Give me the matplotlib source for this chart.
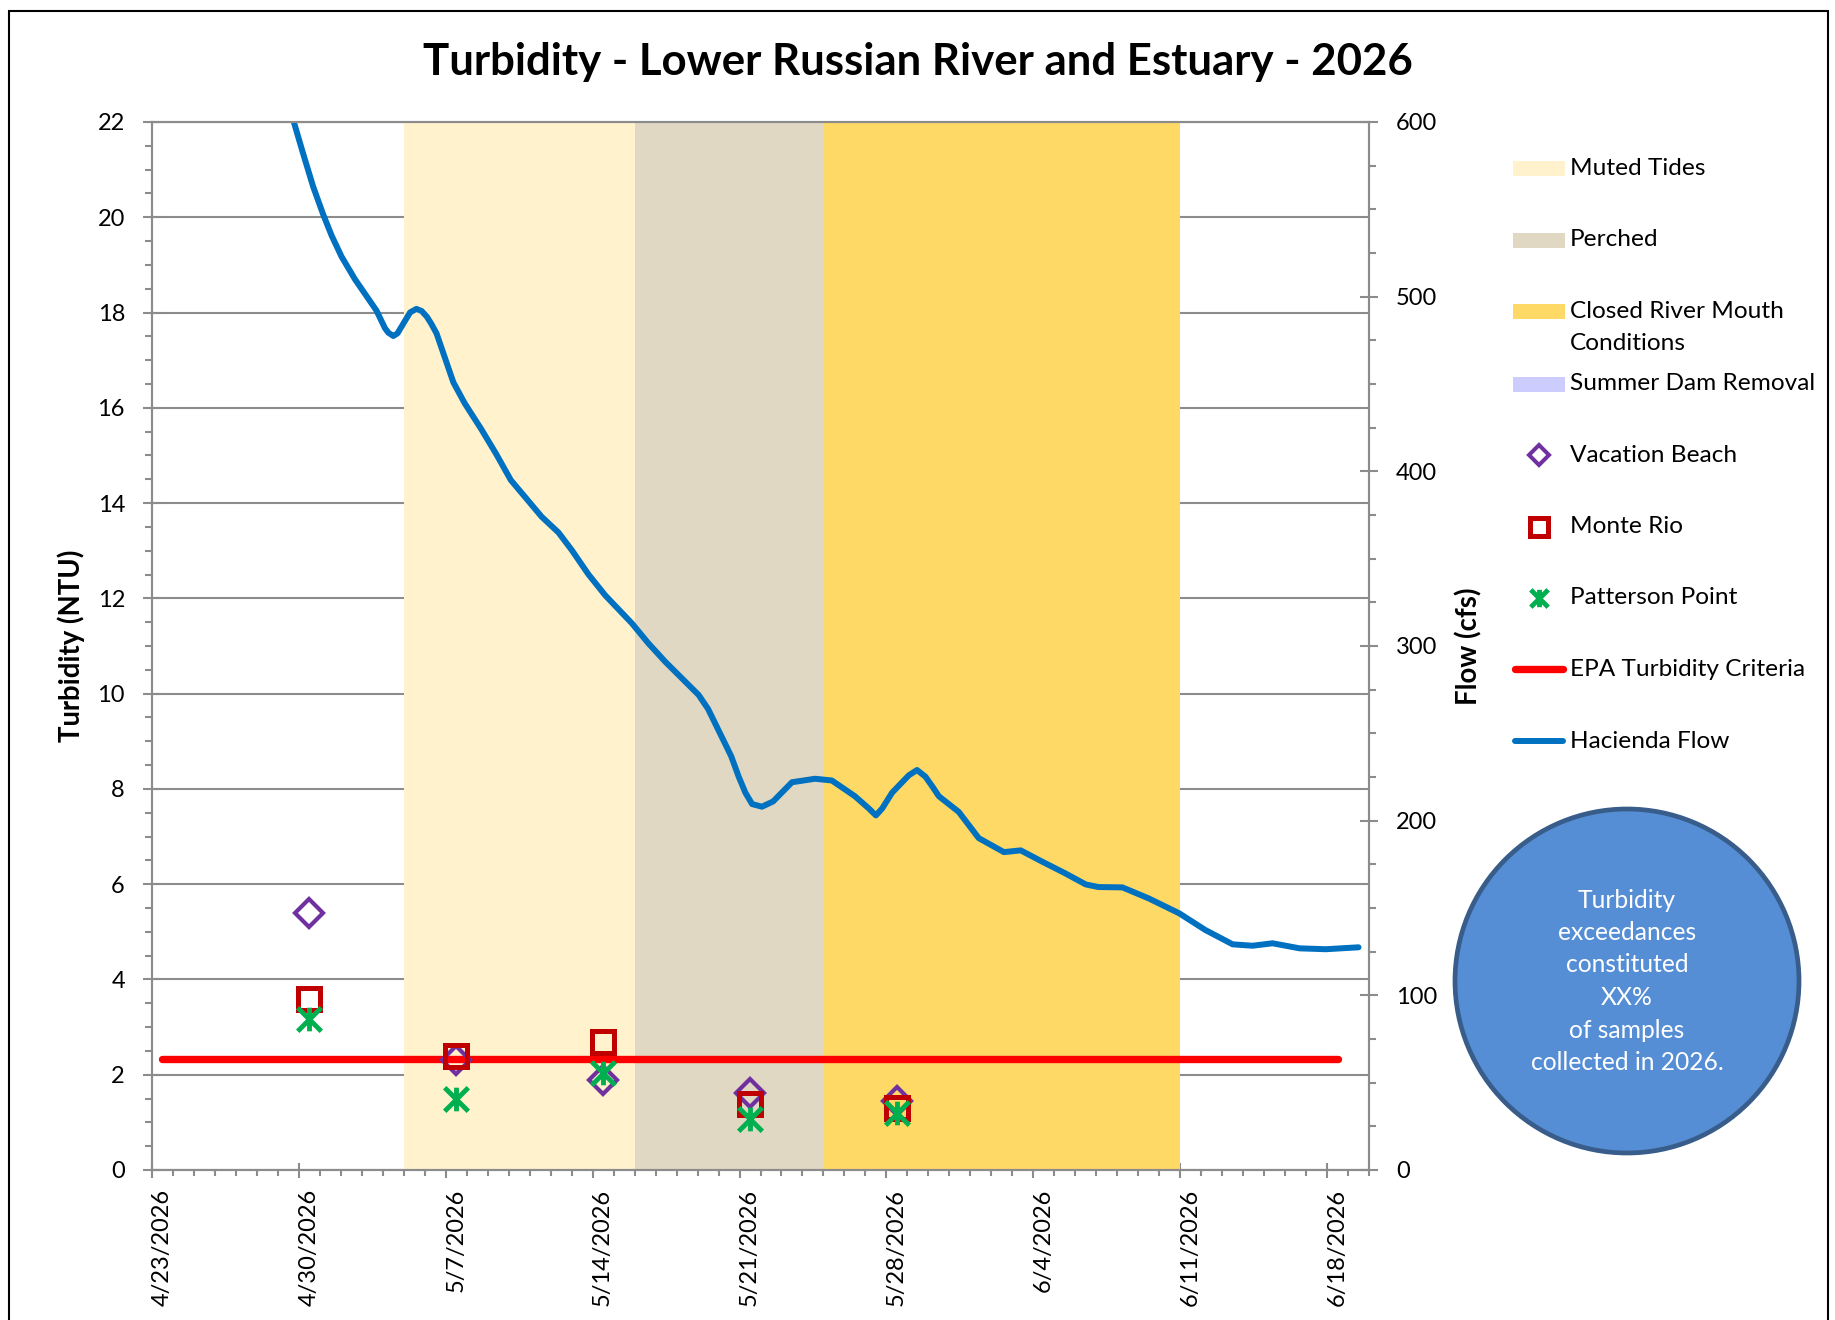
"""Turbidity - Lower Russian River and Estuary - 2026: turbidity samples with Hacienda flow."""

import datetime as dt

import matplotlib

matplotlib.use("Agg")
import matplotlib.dates as mdates
import matplotlib.pyplot as plt
from matplotlib.lines import Line2D
from matplotlib.patches import Circle, Rectangle
from matplotlib.path import Path
from matplotlib.ticker import FuncFormatter, MultipleLocator
from matplotlib.transforms import ScaledTranslation

plt.rcParams["font.family"] = ["Lato", "DejaVu Sans"]

W, H = 1835, 1320
GRAY = "#8C8C8C"

START = dt.datetime(2026, 4, 23)
END = dt.datetime(2026, 6, 20)

# turbidity samples (NTU)
sample_dates = ["2026-04-30 12:00", "2026-05-07 12:00", "2026-05-14 12:00",
                "2026-05-21 12:00", "2026-05-28 12:00"]
vacation_beach = [5.39, 2.31, 1.89, 1.61, 1.45]
monte_rio = [3.58, 2.39, 2.69, 1.39, 1.30]
patterson_point = [3.18, 1.48, 2.03, 1.08, 1.19]

epa_dates = ["2026-04-23 12:00", "2026-06-18 12:00"]
epa_criteria = [2.32, 2.32]

# Hacienda flow (cfs), days after 4/23
flow_days = [6.3, 6.76, 7.2, 7.68, 8.16, 8.56, 9.03, 9.67, 10.3, 10.7, 11.1, 11.26,
             11.5, 11.7, 11.9, 12.3, 12.6, 12.85, 13.1, 13.3, 13.56, 13.96, 14.36,
             14.9, 15.7, 16.4, 17.1, 17.8, 18.57, 19.37, 20.0, 20.8, 21.6, 22.87,
             23.66, 24.46, 26.05, 26.5, 27.6, 27.96, 28.28, 28.6, 29.07, 29.6, 30.5,
             31.6, 32.4, 33.5, 34.16, 34.5, 34.8, 35.27, 36.07, 36.46, 36.86, 37.2,
             37.5, 38.45, 39.4, 40.6, 41.4, 42.43, 43.5, 44.5, 45.1, 46.25, 47.5,
             48.95, 50.2, 51.5, 52.45, 53.4, 54.7, 55.95, 57.5]
flow_cfs = [628, 600, 582, 563, 547, 535, 523, 510, 499, 492, 482, 479.4,
            477.5, 479, 483, 491, 493, 491.8, 488.5, 484.7, 479, 465, 451,
            439, 424, 410, 395, 385, 374, 365, 355, 341, 329, 313,
            301.5, 291, 272, 264, 237, 225.2, 216, 209.5, 208, 211, 222,
            224, 223, 214, 207, 203, 207, 216, 226, 229, 225.2, 219.4,
            214, 205, 190, 182, 183, 176.5, 170, 163.5, 162, 161.8, 155.5,
            147, 137.4, 129.2, 128.4, 129.8, 126.9, 126.4, 127.5]

# river mouth periods
period_labels = ["Muted Tides", "Perched", "Closed River Mouth Conditions"]
period_starts = ["2026-05-05", "2026-05-16", "2026-05-25"]
period_ends = ["2026-05-16", "2026-05-25", "2026-06-11"]
period_colors = ["#FFF2CC", "#E0D8C3", "#FFD966"]
DAM_COLOR = "#CCCCFF"

VB_COLOR, MR_COLOR, PP_COLOR = "#7030A0", "#C00000", "#00B050"
EPA_COLOR, FLOW_COLOR = "#FF0000", "#0070C0"

STAR = Path([(-1, -1), (1, 1), (-1, 1), (1, -1), (0, -1), (0, 1)],
            [Path.MOVETO, Path.LINETO, Path.MOVETO, Path.LINETO,
             Path.MOVETO, Path.LINETO])


def ts(s):
    return dt.datetime.fromisoformat(s)


def fx(x):
    return x / W


def fy(y):
    return 1 - y / H


fig = plt.figure(figsize=(W / 100, H / 100), dpi=100)
ax = fig.add_axes([fx(152), fy(1170), fx(1369) - fx(152), fy(122) - fy(1170)])
ax2 = ax.twinx()

for s, e, c in zip(period_starts, period_ends, period_colors):
    ax.axvspan(ts(s), ts(e), color=c, lw=0, zorder=1)

ax.plot([ts(d) for d in epa_dates], epa_criteria, color=EPA_COLOR, lw=5.3,
        solid_capstyle="round", zorder=3)
sd = [ts(d) for d in sample_dates]
ax.plot(sd, vacation_beach, ls="none", marker="D", ms=14, mfc="none",
        mec=VB_COLOR, mew=3, zorder=4)
ax.plot(sd, monte_rio, ls="none", marker="s", ms=16.5, mfc="none",
        mec=MR_COLOR, mew=3.6, zorder=5)
ax.plot(sd, patterson_point, ls="none", marker=STAR, ms=17, mfc="none",
        mec=PP_COLOR, mew=3.5, zorder=6)

flow_x = [START + dt.timedelta(days=d) for d in flow_days]
ax2.plot(flow_x, flow_cfs, color=FLOW_COLOR, lw=4.3, solid_capstyle="round",
         solid_joinstyle="round")

ax.set_xlim(START, END)
ax.set_ylim(0, 22)
ax2.set_ylim(0, 600)
ax.yaxis.set_major_locator(MultipleLocator(2))
ax.yaxis.set_minor_locator(MultipleLocator(0.5))
ax2.yaxis.set_major_locator(MultipleLocator(100))
ax2.yaxis.set_minor_locator(MultipleLocator(25))
week_ticks = [START + dt.timedelta(days=7 * k) for k in range(9)]
ax.set_xticks(week_ticks)
ax.xaxis.set_minor_locator(mdates.DayLocator())


def date_label(x, pos):
    d = mdates.num2date(x)
    return f"{d.month}/{d.day}/{d.year}"


ax.xaxis.set_major_formatter(FuncFormatter(date_label))

ax.set_axisbelow(True)
ax.grid(axis="y", which="major", color=GRAY, lw=1.5)
for a in (ax, ax2):
    for sp in a.spines.values():
        sp.set_color(GRAY)
        sp.set_linewidth(1.5)

ax.tick_params(axis="y", which="major", direction="inout", length=13, width=1.5,
               color=GRAY, pad=13, labelsize=17)
ax.tick_params(axis="y", which="minor", direction="out", length=4.8, width=1.5,
               color=GRAY)
ax2.tick_params(axis="y", which="major", direction="inout", length=13, width=1.5,
                color=GRAY, pad=13, labelsize=17)
ax2.tick_params(axis="y", which="minor", direction="out", length=4.8, width=1.5,
                color=GRAY)
ax.tick_params(axis="x", which="major", direction="inout", length=10.8, width=1.5,
               color=GRAY, pad=8.3, labelsize=17, labelrotation=90)
ax.tick_params(axis="x", which="minor", direction="out", length=4.3, width=1.5,
               color=GRAY)
shift = ScaledTranslation(10 / 100, 0, fig.dpi_scale_trans)
for lbl in ax.get_xticklabels():
    lbl.set_va("top")
    lbl.set_transform(lbl.get_transform() + shift)

ax.set_ylabel("Turbidity (NTU)", fontsize=19.8, fontweight="bold", va="center")
ax.yaxis.set_label_coords(-0.066, 0.5)
ax2.set_ylabel("Flow (cfs)", fontsize=19.8, fontweight="bold", va="center")
ax2.yaxis.set_label_coords(1.0822, 0.5)

fig.text(fx(918), fy(75), "Turbidity - Lower Russian River and Estuary - 2026",
         ha="center", va="baseline", fontsize=31.5, fontweight="bold")

# legend, drawn by hand to follow the original layout
legend_labels = ["Muted Tides", "Perched", "Closed River Mouth\nConditions",
                 "Summer Dam Removal", "Vacation Beach", "Monte Rio",
                 "Patterson Point", "EPA Turbidity Criteria", "Hacienda Flow"]
row_y = [168.5, 240, 311, 384, 455, 527, 598, 669, 741]
patch_colors = period_colors + [DAM_COLOR]
for i, (label, y) in enumerate(zip(legend_labels, row_y)):
    for j, line in enumerate(label.split("\n")):
        fig.text(fx(1570), fy(y + 33 * j), line, ha="left", va="center",
                 fontsize=17.6)
    if i < 4:
        fig.add_artist(Rectangle((fx(1513), fy(y + 7.5)), fx(52), 15 / H,
                                 transform=fig.transFigure, color=patch_colors[i],
                                 lw=0))
mk = fx(1539)
fig.add_artist(Line2D([mk], [fy(row_y[4])], marker="D", ms=10, mfc="none",
                      mec=VB_COLOR, mew=2.9, transform=fig.transFigure))
fig.add_artist(Line2D([mk], [fy(row_y[5])], marker="s", ms=12.5, mfc="none",
                      mec=MR_COLOR, mew=3.6, transform=fig.transFigure))
fig.add_artist(Line2D([mk], [fy(row_y[6])], marker=STAR, ms=12.5, mfc="none",
                      mec=PP_COLOR, mew=3.5, transform=fig.transFigure))
fig.add_artist(Line2D([fx(1515), fx(1563)], [fy(row_y[7])] * 2, color=EPA_COLOR,
                      lw=5.3, solid_capstyle="round", transform=fig.transFigure))
fig.add_artist(Line2D([fx(1515), fx(1563)], [fy(row_y[8])] * 2, color=FLOW_COLOR,
                      lw=4.3, solid_capstyle="round", transform=fig.transFigure))

# callout circle
fig.add_artist(Circle((1627 / 100, (H - 981) / 100), 1.72,
                      transform=fig.dpi_scale_trans, fc="#558ED5", ec="#385D8A",
                      lw=3.4))
callout = ["Turbidity", "exceedances", "constituted", "XX%", "of samples",
           "collected in 2026."]
for k, line in enumerate(callout):
    fig.text(fx(1627), fy(900 + 32.5 * k), line, ha="center", va="center",
             fontsize=17.7, color="white")

# outer frame
fig.add_artist(Rectangle((fx(9), -0.05), fx(1828 - 9), 1.05 - 11 / H,
                         transform=fig.transFigure, fill=False, ec="black", lw=1.5))

fig.savefig("out.png", dpi=100)
